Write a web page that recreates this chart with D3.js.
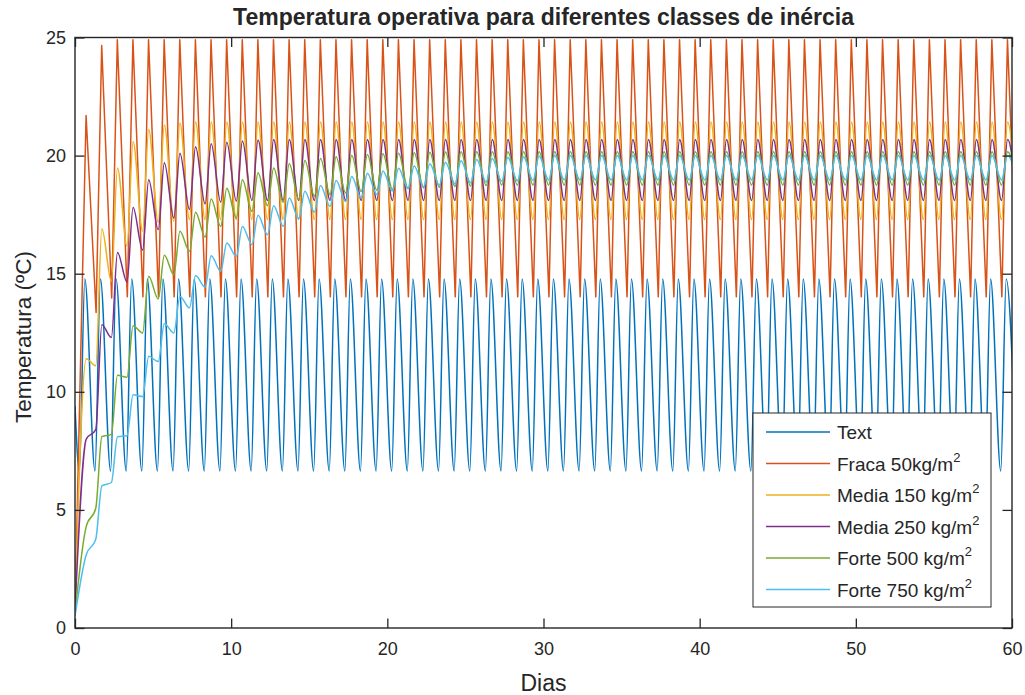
<!DOCTYPE html>
<html><head><meta charset="utf-8">
<script src="https://cdn.jsdelivr.net/npm/d3@7"></script>
<style>body{margin:0;background:#fff} svg{display:block} text{font-family:"Liberation Sans",Arial,Helvetica,sans-serif;fill:#262626}</style>
</head><body><svg id="c" width="1025" height="695"></svg>
<script>
const chartTitle = "Temperatura operativa para diferentes classes de inércia";
const xLabel = "Dias";
const yLabel = "Temperatura (ºC)";
const xTicks = [0, 10, 20, 30, 40, 50, 60];
const yTicks = [0, 5, 10, 15, 20, 25];
const seriesNames = ["Text", "Fraca 50kg/m", "Media 150 kg/m", "Media 250 kg/m", "Forte 500 kg/m", "Forte 750 kg/m"];
const legendSup = ["", "2", "2", "2", "2", "2"];
const seriesColors = ["#0072BD", "#D95319", "#EDB120", "#7E2F8E", "#77AC30", "#4DBEEE"];
// value at day 0
const startValues = [9.4, 0.8, 0.9, 0.7, 0.6, 0.5];
// time-of-day (fraction) of daily minimum and maximum
const troughPhase = [0.28, 0.35, 0.33, 0.33, 0.33, 0.33];
const peakPhase = [0.63, 0.71, 0.72, 0.72, 0.72, 0.72];

// daily minima, day 0..60 (null = no minimum that day)
const textTroughs = [
 6.65,6.65,6.65,6.65,6.65,6.65,6.65,6.65,6.65,6.65,
 6.65,6.65,6.65,6.65,6.65,6.65,6.65,6.65,6.65,6.65,
 6.65,6.65,6.65,6.65,6.65,6.65,6.65,6.65,6.65,6.65,
 6.65,6.65,6.65,6.65,6.65,6.65,6.65,6.65,6.65,6.65,
 6.65,6.65,6.65,6.65,6.65,6.65,6.65,6.65,6.65,6.65,
 6.65,6.65,6.65,6.65,6.65,6.65,6.65,6.65,6.65,6.65,
 6.65];
// daily maxima, day 0..59
const textPeaks = [
 14.78,14.78,14.78,14.78,14.78,14.78,14.78,14.78,14.78,14.78,
 14.78,14.78,14.78,14.78,14.78,14.78,14.78,14.78,14.78,14.78,
 14.78,14.78,14.78,14.78,14.78,14.78,14.78,14.78,14.78,14.78,
 14.78,14.78,14.78,14.78,14.78,14.78,14.78,14.78,14.78,14.78,
 14.78,14.78,14.78,14.78,14.78,14.78,14.78,14.78,14.78,14.78,
 14.78,14.78,14.78,14.78,14.78,14.78,14.78,14.78,14.78,14.78];

const fracaTroughs = [
 null,13.36,13.97,14.02,14.02,14.02,14.02,14.02,14.02,14.02,
 14.02,14.02,14.02,14.02,14.02,14.02,14.02,14.02,14.02,14.02,
 14.02,14.02,14.02,14.02,14.02,14.02,14.02,14.02,14.02,14.02,
 14.02,14.02,14.02,14.02,14.02,14.02,14.02,14.02,14.02,14.02,
 14.02,14.02,14.02,14.02,14.02,14.02,14.02,14.02,14.02,14.02,
 14.02,14.02,14.02,14.02,14.02,14.02,14.02,14.02,14.02,14.02,
 14.02];
const fracaPeaks = [
 21.7,24.66,24.9,24.9,24.9,24.9,24.9,24.9,24.9,24.9,
 24.9,24.9,24.9,24.9,24.9,24.9,24.9,24.9,24.9,24.9,
 24.9,24.9,24.9,24.9,24.9,24.9,24.9,24.9,24.9,24.9,
 24.9,24.9,24.9,24.9,24.9,24.9,24.9,24.9,24.9,24.9,
 24.9,24.9,24.9,24.9,24.9,24.9,24.9,24.9,24.9,24.9,
 24.9,24.9,24.9,24.9,24.9,24.9,24.9,24.9,24.9,24.9];

const media150Troughs = [
 null,11.1,14.67,16.16,16.8,17.17,17.22,17.29,17.29,17.29,
 17.29,17.29,17.29,17.29,17.29,17.29,17.29,17.29,17.29,17.29,
 17.29,17.29,17.29,17.29,17.29,17.29,17.29,17.29,17.29,17.29,
 17.29,17.29,17.29,17.29,17.29,17.29,17.29,17.29,17.29,17.29,
 17.29,17.29,17.29,17.29,17.29,17.29,17.29,17.29,17.29,17.29,
 17.29,17.29,17.29,17.29,17.29,17.29,17.29,17.29,17.29,17.29,
 17.29];
const media150Peaks = [
 11.4,16.9,19.48,20.6,21.1,21.3,21.38,21.42,21.42,21.42,
 21.42,21.42,21.42,21.42,21.42,21.42,21.42,21.42,21.42,21.42,
 21.42,21.42,21.42,21.42,21.42,21.42,21.42,21.42,21.42,21.42,
 21.42,21.42,21.42,21.42,21.42,21.42,21.42,21.42,21.42,21.42,
 21.42,21.42,21.42,21.42,21.42,21.42,21.42,21.42,21.42,21.42,
 21.42,21.42,21.42,21.42,21.42,21.42,21.42,21.42,21.42,21.42];

const media250Troughs = [
 null,8.4,12.3,14.65,16.0,16.86,17.36,17.72,17.95,18.03,
 18.07,18.1,18.1,18.1,18.1,18.1,18.1,18.1,18.1,18.1,
 18.1,18.1,18.1,18.1,18.1,18.1,18.1,18.1,18.1,18.1,
 18.1,18.1,18.1,18.1,18.1,18.1,18.1,18.1,18.1,18.1,
 18.1,18.1,18.1,18.1,18.1,18.1,18.1,18.1,18.1,18.1,
 18.1,18.1,18.1,18.1,18.1,18.1,18.1,18.1,18.1,18.1,
 18.1];
const media250Peaks = [
 8.0,12.84,15.9,17.8,18.98,19.7,20.1,20.37,20.5,20.56,
 20.62,20.66,20.68,20.68,20.68,20.68,20.68,20.68,20.68,20.68,
 20.68,20.68,20.68,20.68,20.68,20.68,20.68,20.68,20.68,20.68,
 20.68,20.68,20.68,20.68,20.68,20.68,20.68,20.68,20.68,20.68,
 20.68,20.68,20.68,20.68,20.68,20.68,20.68,20.68,20.68,20.68,
 20.68,20.68,20.68,20.68,20.68,20.68,20.68,20.68,20.68,20.68];

const forte500Troughs = [
 null,5.07,8.2,10.62,12.49,13.93,14.96,15.95,16.55,17.0,
 17.36,17.64,17.88,18.02,18.14,18.28,18.35,18.42,18.48,18.53,
 18.57,18.6,18.63,18.66,18.69,18.71,18.73,18.75,18.75,18.75,
 18.75,18.75,18.75,18.75,18.75,18.75,18.75,18.75,18.75,18.75,
 18.75,18.75,18.75,18.75,18.75,18.75,18.75,18.75,18.75,18.75,
 18.75,18.75,18.75,18.75,18.75,18.75,18.75,18.75,18.75,18.75,
 18.75];
const forte500Peaks = [
 4.3,8.1,10.7,12.8,14.89,15.78,16.8,17.6,18.16,18.62,
 18.98,19.27,19.48,19.65,19.79,19.88,19.95,20.0,20.05,20.08,
 20.1,20.12,20.14,20.15,20.16,20.16,20.16,20.16,20.16,20.16,
 20.16,20.16,20.16,20.16,20.16,20.16,20.16,20.16,20.16,20.16,
 20.16,20.16,20.16,20.16,20.16,20.16,20.16,20.16,20.16,20.16,
 20.16,20.16,20.16,20.16,20.16,20.16,20.16,20.16,20.16,20.16];

const forte750Troughs = [
 null,3.76,6.16,8.14,9.8,11.28,12.49,13.55,14.43,15.1,
 15.73,16.23,16.65,17.0,17.32,17.6,17.85,18.06,18.2,18.35,
 18.5,18.6,18.68,18.75,18.8,18.85,18.88,18.91,18.93,18.95,
 18.97,18.97,18.97,18.97,18.97,18.97,18.97,18.97,18.97,18.97,
 18.97,18.97,18.97,18.97,18.97,18.97,18.97,18.97,18.97,18.97,
 18.97,18.97,18.97,18.97,18.97,18.97,18.97,18.97,18.97,18.97,
 18.97];
const forte750Peaks = [
 3.1,6.02,8.1,9.87,11.5,12.88,14.04,14.92,15.76,16.3,
 17.0,17.47,17.88,18.2,18.49,18.73,18.95,19.12,19.25,19.35,
 19.46,19.56,19.65,19.72,19.78,19.84,19.88,19.92,19.95,19.98,
 20.0,20.0,20.0,20.0,20.0,20.0,20.0,20.0,20.0,20.0,
 20.0,20.0,20.0,20.0,20.0,20.0,20.0,20.0,20.0,20.0,
 20.0,20.0,20.0,20.0,20.0,20.0,20.0,20.0,20.0,20.0];

const troughSeries = [textTroughs, fracaTroughs, media150Troughs, media250Troughs, forte500Troughs, forte750Troughs];
const peakSeries = [textPeaks, fracaPeaks, media150Peaks, media250Peaks, forte500Peaks, forte750Peaks];

const svg = d3.select("#c");
const L = 75, R = 1012, T = 37.5, B = 628;
const x = d3.scaleLinear().domain([0, 60]).range([L, R]);
const y = d3.scaleLinear().domain([0, 25]).range([B, T]);
const axisColor = "#262626";

svg.append("defs").append("clipPath").attr("id", "clip")
  .append("rect").attr("x", L).attr("y", T - 2).attr("width", R - L).attr("height", B - T + 2);

// build point lists
const seriesPoints = seriesNames.map((name, i) => {
  const pts = [{t: 0, v: startValues[i]}];
  troughSeries[i].forEach((v, n) => { if (v !== null) pts.push({t: n + troughPhase[i], v}); });
  peakSeries[i].forEach((v, n) => { if (v !== null) pts.push({t: n + peakPhase[i], v}); });
  pts.sort((a, b) => a.t - b.t);
  return pts;
});

const g = svg.append("g").attr("clip-path", "url(#clip)");
seriesPoints.forEach((pts, i) => {
  const line = d3.line().x(d => x(d.t)).y(d => y(d.v))
    .curve(i === 1 ? d3.curveLinear : d3.curveMonotoneX);
  g.append("path").datum(pts).attr("d", line)
    .attr("fill", "none").attr("stroke", seriesColors[i])
    .attr("stroke-width", 1.5).attr("stroke-linejoin", "round");
});

// axes
const tick = 9.5;
const fs = 18;
const ax = svg.append("g").attr("transform", `translate(0,${B})`)
  .call(d3.axisBottom(x).tickValues(xTicks).tickSizeInner(-tick).tickSizeOuter(0).tickPadding(14).tickFormat(d3.format("d")));
const axT = svg.append("g").attr("transform", `translate(0,${T})`)
  .call(d3.axisTop(x).tickValues(xTicks).tickSizeInner(-tick).tickSizeOuter(0).tickFormat(""));
const ay = svg.append("g").attr("transform", `translate(${L},0)`)
  .call(d3.axisLeft(y).tickValues(yTicks).tickSizeInner(-tick).tickSizeOuter(0).tickPadding(9).tickFormat(d3.format("d")));
const ayR = svg.append("g").attr("transform", `translate(${R},0)`)
  .call(d3.axisRight(y).tickValues(yTicks).tickSizeInner(-tick).tickSizeOuter(0).tickFormat(""));
[ax, axT, ay, ayR].forEach(a => {
  a.select(".domain").remove();
  a.selectAll(".tick line").attr("stroke", axisColor).attr("stroke-width", 1.3);
  a.selectAll(".tick text").attr("font-size", fs).attr("fill", axisColor)
    .style("font-family", '"Liberation Sans",Arial,sans-serif');
});
svg.append("rect").attr("x", L).attr("y", T).attr("width", R - L).attr("height", B - T)
  .attr("fill", "none").attr("stroke", axisColor).attr("stroke-width", 1.4);

// title & labels
svg.append("text").attr("x", (L + R) / 2).attr("y", 25).attr("text-anchor", "middle")
  .attr("font-size", 23).attr("font-weight", "bold").attr("fill", "#000").text(chartTitle);
svg.append("text").attr("x", (L + R) / 2).attr("y", 691).attr("text-anchor", "middle")
  .attr("font-size", 23).text(xLabel);
svg.append("text").attr("transform", `translate(31,337) rotate(-90)`).attr("text-anchor", "middle")
  .attr("font-size", 22.5).text(yLabel);

// legend
const lg = svg.append("g");
lg.append("rect").attr("x", 753).attr("y", 413).attr("width", 238).attr("height", 194)
  .attr("fill", "#fff").attr("stroke", axisColor).attr("stroke-width", 1);
seriesNames.forEach((name, i) => {
  const cy = 432 + i * 31.5;
  lg.append("line").attr("x1", 766).attr("x2", 830).attr("y1", cy).attr("y2", cy)
    .attr("stroke", seriesColors[i]).attr("stroke-width", 1.5);
  const t = lg.append("text").attr("x", 837).attr("y", cy + 7).attr("font-size", 19).attr("fill", "#000");
  t.append("tspan").text(name);
  if (legendSup[i]) t.append("tspan").attr("dy", -9).attr("font-size", 13).text(legendSup[i]);
});
</script></body></html>
